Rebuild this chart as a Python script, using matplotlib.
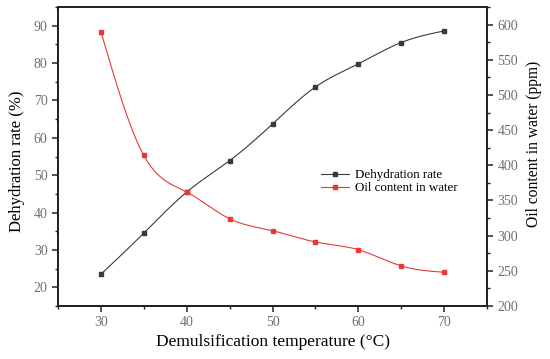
import numpy as np
import matplotlib
matplotlib.use("Agg")
import matplotlib.pyplot as plt
from matplotlib.ticker import MultipleLocator

temperature = [30, 35, 40, 45, 50, 55, 60, 65, 70]
dehydration_rate = [23.5, 34.5, 45.5, 53.9, 63.7, 73.6, 79.8, 85.5, 88.6]
oil_content = [590, 414, 362, 324, 307, 291, 280, 257, 248]

plt.rcParams['font.family'] = ['Liberation Serif', 'DejaVu Serif']


def spline_curve(x, y, n=300):
    # natural cubic spline through the given points (line shape only)
    x = np.asarray(x, float); y = np.asarray(y, float)
    k = len(x); h = np.diff(x)
    A = np.zeros((k, k)); b = np.zeros(k)
    A[0, 0] = A[-1, -1] = 1
    for i in range(1, k - 1):
        A[i, i - 1] = h[i - 1]; A[i, i] = 2 * (h[i - 1] + h[i]); A[i, i + 1] = h[i]
        b[i] = 3 * ((y[i + 1] - y[i]) / h[i] - (y[i] - y[i - 1]) / h[i - 1])
    c = np.linalg.solve(A, b)
    xs = np.linspace(x[0], x[-1], n); ys = np.empty_like(xs)
    for j, t in enumerate(xs):
        i = min(np.searchsorted(x, t, side='right') - 1, k - 2)
        d = t - x[i]
        bb = (y[i + 1] - y[i]) / h[i] - h[i] * (2 * c[i] + c[i + 1]) / 3
        dd = (c[i + 1] - c[i]) / (3 * h[i])
        ys[j] = y[i] + bb * d + c[i] * d ** 2 + dd * d ** 3
    return xs, ys


fig = plt.figure(figsize=(5.5, 3.59), dpi=100)
ax = fig.add_axes([0.1055, 0.1476, 0.78, 0.8329])
ax2 = ax.twinx()

black = '#3a3a3a'
red = '#e8393a'

xs, ys = spline_curve(temperature, dehydration_rate)
ax.plot(xs, ys, color=black, lw=0.8)
ax.plot(temperature, dehydration_rate, ls='none', marker='s', ms=3, color=black)
l1, = ax.plot([], [], color=black, lw=0.8, marker='s', ms=3, label='Dehydration rate')

xs2, ys2 = spline_curve(temperature, oil_content)
ax2.plot(xs2, ys2, color=red, lw=0.8)
ax2.plot(temperature, oil_content, ls='none', marker='s', ms=3, color=red)
l2, = ax2.plot([], [], color=red, lw=0.8, marker='s', ms=3, label='Oil content in water')

ax.set_xlim(25, 75)
ax.set_ylim(15, 95)
ax2.set_ylim(200, 625)

ax.xaxis.set_major_locator(MultipleLocator(10))
ax.xaxis.set_minor_locator(MultipleLocator(5))
ax.yaxis.set_major_locator(MultipleLocator(10))
ax.yaxis.set_minor_locator(MultipleLocator(5))
ax2.yaxis.set_major_locator(MultipleLocator(50))
ax2.yaxis.set_minor_locator(MultipleLocator(25))

tick_col = '#707070'
for a in (ax, ax2):
    for s in a.spines.values():
        s.set_linewidth(1.3)
        s.set_color('#222222')
    a.tick_params(which='major', direction='out', length=4, width=1.1, labelsize=10, labelcolor=tick_col, color='#222222')
    a.tick_params(which='minor', direction='out', length=2.5, width=1.0, color='#222222')

ax.set_xlabel('Demulsification temperature (°C)', fontsize=12.5, labelpad=3)
ax.set_ylabel('Dehydration rate (%)', fontsize=12)
ax.yaxis.set_label_coords(-0.077, 0.483)
ax2.set_ylabel('Oil content in water (ppm)', fontsize=11.2)
ax2.yaxis.set_label_coords(1.091, 0.543)

ax.legend(handles=[l1, l2], frameon=False, fontsize=9.4, loc='upper left',
          bbox_to_anchor=(0.6, 0.475), handlelength=2.2, handletextpad=0.4,
          labelspacing=0.05, borderaxespad=0)

fig.savefig('out.png', dpi=100)
